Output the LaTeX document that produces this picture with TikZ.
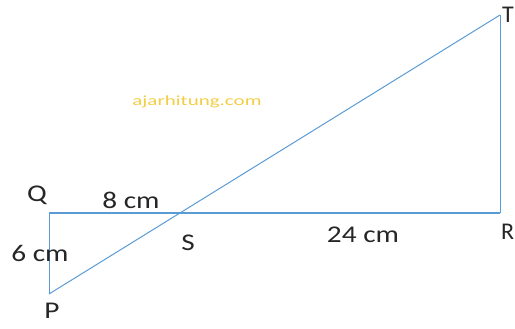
\documentclass[tikz,border=0pt]{standalone}
\usepackage{fontspec}
\setmainfont{Carlito}
\newfontfamily\lblfont[FakeStretch=1.22]{Carlito}
\newfontfamily\wmfont[FakeStretch=1.5]{Carlito}
\definecolor{lineblue}{RGB}{91,155,213}
\definecolor{wmark}{RGB}{242,205,70}
\begin{document}
\begin{tikzpicture}[x=1pt,y=-1pt,
  lbl/.style={font=\lblfont\fontsize{24}{26}\selectfont, text=black!85, inner sep=0pt},
  edgelbl/.style={font=\fontsize{24}{26}\selectfont, text=black!85, inner sep=0pt},
  edge/.style={draw=lineblue, line width=1.6pt},
  thin edge/.style={draw=lineblue, line width=1pt}]
\useasboundingbox (0,0) rectangle (515,329);
\coordinate (Q) at (49,213);
\coordinate (R) at (500,213);
\coordinate (T) at (500,15);
\coordinate (P) at (49,294);
\coordinate (S) at (180,213);
\draw[edge] (Q) -- (R);
\draw[thin edge] (Q) -- (P);
\draw[thin edge] (R) -- (T);
\draw[thin edge] (P) -- (T);
\node[lbl] (lQ) at (37,195) {Q};
\node[lbl] (l8) at (131,200) {8 cm};
\node[lbl] (l6) at (40,253) {6 cm};
\node[lbl] (lS) at (188,243) {S};
\node[lbl] (lP) at (52,311) {P};
\node[lbl] (l24) at (363,235) {24 cm};
\node[edgelbl, anchor=west] (lR) at (501,232) {R};
\node[edgelbl, anchor=west] (lT) at (502,15) {T};
\node[font=\wmfont\fontsize{14}{16}\selectfont, text=wmark, inner sep=0pt] (wm) at (197,102) {ajarhitung.com};
\end{tikzpicture}
\end{document}
